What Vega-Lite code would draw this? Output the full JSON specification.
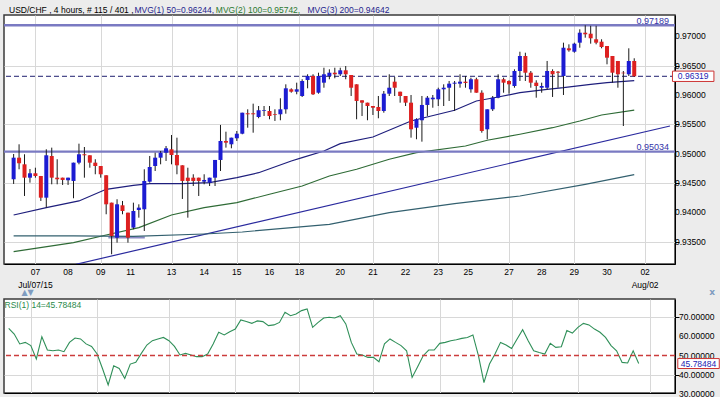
{
"$schema": "https://vega.github.io/schema/vega-lite/v6.json",
"background": "#ececec",
"padding": {"left": 2, "top": 5, "right": 0, "bottom": 0},
"autosize": {"type": "pad"},
"bounds": "flush",
"spacing": 35,
"resolve": {"scale": {"x": "independent", "y": "independent"}},
"config": {
  "font": "Liberation Sans",
  "view": {"stroke": "#3a3a3a", "strokeWidth": 1.5, "fill": "white"},
  "axis": {"domainColor": "#000000", "tickColor": "#000000", "gridColor": "#d8d8d8", "gridWidth": 1, "title": null, "labels": false}
},
"datasets": {
  "one": [{}],
  "yticks": [{"p":0.935},{"p":0.94},{"p":0.945},{"p":0.95},{"p":0.955},{"p":0.96},{"p":0.965},{"p":0.97}],
  "rticks": [{"v":30},{"v":40},{"v":50},{"v":60},{"v":70}],
  "xticks": [{"i":4,"t":"07"},{"i":10,"t":"08"},{"i":16,"t":"09"},{"i":21.5,"t":"11"},{"i":29,"t":"13"},{"i":35,"t":"14"},{"i":41,"t":"15"},{"i":47,"t":"16"},{"i":52.5,"t":"18"},{"i":60,"t":"20"},{"i":66,"t":"21"},{"i":72,"t":"22"},{"i":78,"t":"23"},{"i":83.5,"t":"25"},{"i":91,"t":"27"},{"i":97,"t":"28"},{"i":103,"t":"29"},{"i":109,"t":"30"},{"i":116,"t":"02"}],
  "xdates": [{"i":4,"t":"Jul/07/15"},{"i":116,"t":"Aug/02"}],
  "candles": [
{"i":0,"o":0.94563,"h":0.94994,"l":0.94483,"c":0.94931},
{"i":1,"o":0.94931,"h":0.95159,"l":0.94733,"c":0.94836},
{"i":2,"o":0.94818,"h":0.94989,"l":0.94278,"c":0.94590},
{"i":3,"o":0.94590,"h":0.94738,"l":0.94505,"c":0.94665},
{"i":4,"o":0.94665,"h":0.94760,"l":0.94590,"c":0.94619},
{"i":5,"o":0.94619,"h":0.94619,"l":0.94193,"c":0.94249},
{"i":6,"o":0.94249,"h":0.95074,"l":0.94079,"c":0.94972},
{"i":7,"o":0.94960,"h":0.95102,"l":0.94477,"c":0.94590},
{"i":8,"o":0.94590,"h":0.94904,"l":0.94477,"c":0.94563},
{"i":9,"o":0.94590,"h":0.94590,"l":0.94466,"c":0.94551},
{"i":10,"o":0.94546,"h":0.94590,"l":0.94466,"c":0.94590},
{"i":11,"o":0.94534,"h":0.94846,"l":0.94239,"c":0.94846},
{"i":12,"o":0.94846,"h":0.95170,"l":0.94818,"c":0.94989},
{"i":13,"o":0.94989,"h":0.95113,"l":0.94590,"c":0.94972},
{"i":14,"o":0.94972,"h":0.94972,"l":0.94760,"c":0.94846},
{"i":15,"o":0.94846,"h":0.94904,"l":0.94648,"c":0.94789},
{"i":16,"o":0.94789,"h":0.94789,"l":0.94590,"c":0.94648},
{"i":17,"o":0.94631,"h":0.94631,"l":0.93966,"c":0.94136},
{"i":18,"o":0.94164,"h":0.94164,"l":0.93284,"c":0.93596},
{"i":19,"o":0.93567,"h":0.94222,"l":0.93482,"c":0.94136},
{"i":20,"o":0.94119,"h":0.94193,"l":0.93966,"c":0.94022},
{"i":21,"o":0.93993,"h":0.93993,"l":0.93482,"c":0.93567},
{"i":22,"o":0.93738,"h":0.94164,"l":0.93710,"c":0.94022},
{"i":23,"o":0.94039,"h":0.94136,"l":0.93908,"c":0.94079},
{"i":24,"o":0.94051,"h":0.94733,"l":0.93681,"c":0.94534},
{"i":25,"o":0.94522,"h":0.94960,"l":0.94505,"c":0.94772},
{"i":26,"o":0.94789,"h":0.95016,"l":0.94704,"c":0.94931},
{"i":27,"o":0.94931,"h":0.95045,"l":0.94818,"c":0.95016},
{"i":28,"o":0.95016,"h":0.95130,"l":0.94875,"c":0.95091},
{"i":29,"o":0.95074,"h":0.95318,"l":0.94818,"c":0.94977},
{"i":30,"o":0.94977,"h":0.95272,"l":0.94648,"c":0.94801},
{"i":31,"o":0.94801,"h":0.94801,"l":0.94227,"c":0.94534},
{"i":32,"o":0.94590,"h":0.94760,"l":0.93908,"c":0.94534},
{"i":33,"o":0.94590,"h":0.94648,"l":0.94448,"c":0.94534},
{"i":34,"o":0.94590,"h":0.94590,"l":0.94278,"c":0.94534},
{"i":35,"o":0.94522,"h":0.94648,"l":0.94477,"c":0.94551},
{"i":36,"o":0.94505,"h":0.94590,"l":0.94448,"c":0.94590},
{"i":37,"o":0.94590,"h":0.94892,"l":0.94448,"c":0.94892},
{"i":38,"o":0.94892,"h":0.95489,"l":0.94704,"c":0.95216},
{"i":39,"o":0.95216,"h":0.95374,"l":0.95102,"c":0.95187},
{"i":40,"o":0.95159,"h":0.95272,"l":0.95091,"c":0.95272},
{"i":41,"o":0.95262,"h":0.95386,"l":0.95216,"c":0.95340},
{"i":42,"o":0.95340,"h":0.95698,"l":0.95330,"c":0.95698},
{"i":43,"o":0.95688,"h":0.95756,"l":0.95442,"c":0.95671},
{"i":44,"o":0.95688,"h":0.95852,"l":0.95357,"c":0.95671},
{"i":45,"o":0.95625,"h":0.95812,"l":0.95603,"c":0.95739},
{"i":46,"o":0.95727,"h":0.95812,"l":0.95642,"c":0.95739},
{"i":47,"o":0.95727,"h":0.95812,"l":0.95586,"c":0.95642},
{"i":48,"o":0.95671,"h":0.95756,"l":0.95557,"c":0.95659},
{"i":49,"o":0.95671,"h":0.95944,"l":0.95569,"c":0.95756},
{"i":50,"o":0.95756,"h":0.96182,"l":0.95681,"c":0.96114},
{"i":51,"o":0.96097,"h":0.96114,"l":0.96039,"c":0.96056},
{"i":52,"o":0.96056,"h":0.96210,"l":0.96012,"c":0.96097},
{"i":53,"o":0.95983,"h":0.96268,"l":0.95966,"c":0.96239},
{"i":54,"o":0.96256,"h":0.96353,"l":0.96114,"c":0.96324},
{"i":55,"o":0.96324,"h":0.96353,"l":0.96000,"c":0.96012},
{"i":56,"o":0.96039,"h":0.96380,"l":0.96022,"c":0.96324},
{"i":57,"o":0.96210,"h":0.96465,"l":0.96124,"c":0.96353},
{"i":58,"o":0.96324,"h":0.96438,"l":0.96268,"c":0.96380},
{"i":59,"o":0.96380,"h":0.96465,"l":0.96285,"c":0.96353},
{"i":60,"o":0.96353,"h":0.96465,"l":0.96324,"c":0.96421},
{"i":61,"o":0.96421,"h":0.96494,"l":0.96268,"c":0.96353},
{"i":62,"o":0.96341,"h":0.96341,"l":0.95983,"c":0.96124},
{"i":63,"o":0.96182,"h":0.96182,"l":0.95586,"c":0.95898},
{"i":64,"o":0.95910,"h":0.95910,"l":0.95642,"c":0.95869},
{"i":65,"o":0.95869,"h":0.95869,"l":0.95569,"c":0.95812},
{"i":66,"o":0.95812,"h":0.95812,"l":0.95659,"c":0.95783},
{"i":67,"o":0.95795,"h":0.95983,"l":0.95603,"c":0.95727},
{"i":68,"o":0.95727,"h":0.96068,"l":0.95698,"c":0.96022},
{"i":69,"o":0.96022,"h":0.96353,"l":0.95983,"c":0.96124},
{"i":70,"o":0.96227,"h":0.96307,"l":0.95983,"c":0.96124},
{"i":71,"o":0.96056,"h":0.96056,"l":0.95869,"c":0.95983},
{"i":72,"o":0.95983,"h":0.95983,"l":0.95812,"c":0.95869},
{"i":73,"o":0.95869,"h":0.96000,"l":0.95272,"c":0.95415},
{"i":74,"o":0.95442,"h":0.95603,"l":0.95245,"c":0.95586},
{"i":75,"o":0.95569,"h":0.95983,"l":0.95204,"c":0.95830},
{"i":76,"o":0.95830,"h":0.95983,"l":0.95642,"c":0.95954},
{"i":77,"o":0.95927,"h":0.96000,"l":0.95783,"c":0.95954},
{"i":78,"o":0.95927,"h":0.96124,"l":0.95812,"c":0.96097},
{"i":79,"o":0.96097,"h":0.96182,"l":0.95812,"c":0.96124},
{"i":80,"o":0.96124,"h":0.96239,"l":0.95898,"c":0.96193},
{"i":81,"o":0.96193,"h":0.96239,"l":0.95727,"c":0.96210},
{"i":82,"o":0.96193,"h":0.96353,"l":0.96124,"c":0.96227},
{"i":83,"o":0.96227,"h":0.96324,"l":0.96124,"c":0.96205},
{"i":84,"o":0.96097,"h":0.96295,"l":0.96039,"c":0.96268},
{"i":85,"o":0.96268,"h":0.96295,"l":0.96039,"c":0.96039},
{"i":86,"o":0.96039,"h":0.96080,"l":0.95357,"c":0.95386},
{"i":87,"o":0.95415,"h":0.95756,"l":0.95245,"c":0.95756},
{"i":88,"o":0.95756,"h":0.95983,"l":0.95727,"c":0.95954},
{"i":89,"o":0.95954,"h":0.96353,"l":0.95944,"c":0.96268},
{"i":90,"o":0.96268,"h":0.96295,"l":0.96039,"c":0.96210},
{"i":91,"o":0.96239,"h":0.96251,"l":0.96022,"c":0.96182},
{"i":92,"o":0.96153,"h":0.96438,"l":0.96124,"c":0.96409},
{"i":93,"o":0.96409,"h":0.96738,"l":0.96239,"c":0.96665},
{"i":94,"o":0.96665,"h":0.96721,"l":0.96239,"c":0.96380},
{"i":95,"o":0.96380,"h":0.96409,"l":0.96124,"c":0.96210},
{"i":96,"o":0.96210,"h":0.96251,"l":0.95954,"c":0.96153},
{"i":97,"o":0.96124,"h":0.96210,"l":0.96039,"c":0.96153},
{"i":98,"o":0.96124,"h":0.96580,"l":0.96097,"c":0.96409},
{"i":99,"o":0.96409,"h":0.96438,"l":0.95966,"c":0.96353},
{"i":100,"o":0.96397,"h":0.96409,"l":0.96124,"c":0.96380},
{"i":101,"o":0.96324,"h":0.96892,"l":0.96000,"c":0.96806},
{"i":102,"o":0.96796,"h":0.96864,"l":0.96738,"c":0.96762},
{"i":103,"o":0.96738,"h":0.96892,"l":0.96721,"c":0.96875},
{"i":104,"o":0.96892,"h":0.97120,"l":0.96806,"c":0.97062},
{"i":105,"o":0.97062,"h":0.97189,"l":0.96977,"c":0.97035},
{"i":106,"o":0.97045,"h":0.97180,"l":0.96875,"c":0.96967},
{"i":107,"o":0.96950,"h":0.97180,"l":0.96864,"c":0.96892},
{"i":108,"o":0.96909,"h":0.96950,"l":0.96796,"c":0.96818},
{"i":109,"o":0.96835,"h":0.96835,"l":0.96523,"c":0.96636},
{"i":110,"o":0.96665,"h":0.96665,"l":0.96210,"c":0.96380},
{"i":111,"o":0.96580,"h":0.96580,"l":0.96124,"c":0.96353},
{"i":112,"o":0.96380,"h":0.96409,"l":0.95471,"c":0.96370},
{"i":113,"o":0.96353,"h":0.96796,"l":0.96324,"c":0.96580},
{"i":114,"o":0.96580,"h":0.96626,"l":0.96307,"c":0.96319}
  ],
  "ma": [
{"i":0,"p":0.93954,"s":"MA50"},{"i":6,"p":0.94079,"s":"MA50"},{"i":12,"p":0.94193,"s":"MA50"},{"i":17,"p":0.94392,"s":"MA50"},{"i":22,"p":0.94460,"s":"MA50"},{"i":25,"p":0.94488,"s":"MA50"},{"i":31,"p":0.94488,"s":"MA50"},{"i":36,"p":0.94505,"s":"MA50"},{"i":41,"p":0.94590,"s":"MA50"},{"i":45,"p":0.94675,"s":"MA50"},{"i":51,"p":0.94875,"s":"MA50"},{"i":53,"p":0.94931,"s":"MA50"},{"i":57,"p":0.95045,"s":"MA50"},{"i":60,"p":0.95170,"s":"MA50"},{"i":66,"p":0.95284,"s":"MA50"},{"i":73,"p":0.95557,"s":"MA50"},{"i":75,"p":0.95603,"s":"MA50"},{"i":81,"p":0.95739,"s":"MA50"},{"i":85,"p":0.95898,"s":"MA50"},{"i":89,"p":0.95966,"s":"MA50"},{"i":93,"p":0.96039,"s":"MA50"},{"i":98,"p":0.96097,"s":"MA50"},{"i":101,"p":0.96124,"s":"MA50"},{"i":106,"p":0.96182,"s":"MA50"},{"i":109,"p":0.96210,"s":"MA50"},{"i":114,"p":0.96244,"s":"MA50"},
{"i":0,"p":0.93328,"s":"MA100"},{"i":11,"p":0.93482,"s":"MA100"},{"i":17,"p":0.93613,"s":"MA100"},{"i":23,"p":0.93738,"s":"MA100"},{"i":29,"p":0.93954,"s":"MA100"},{"i":35,"p":0.94079,"s":"MA100"},{"i":41,"p":0.94164,"s":"MA100"},{"i":47,"p":0.94307,"s":"MA100"},{"i":53,"p":0.94448,"s":"MA100"},{"i":58,"p":0.94619,"s":"MA100"},{"i":63,"p":0.94733,"s":"MA100"},{"i":69,"p":0.94904,"s":"MA100"},{"i":74,"p":0.95016,"s":"MA100"},{"i":83,"p":0.95130,"s":"MA100"},{"i":87,"p":0.95228,"s":"MA100"},{"i":93,"p":0.95330,"s":"MA100"},{"i":99,"p":0.95442,"s":"MA100"},{"i":104,"p":0.95557,"s":"MA100"},{"i":108,"p":0.95659,"s":"MA100"},{"i":114,"p":0.95742,"s":"MA100"},
{"i":0,"p":0.93596,"s":"MA200"},{"i":11,"p":0.93596,"s":"MA200"},{"i":22,"p":0.93588,"s":"MA200"},{"i":35,"p":0.93630,"s":"MA200"},{"i":42,"p":0.93664,"s":"MA200"},{"i":58,"p":0.93795,"s":"MA200"},{"i":69,"p":0.93993,"s":"MA200"},{"i":81,"p":0.94147,"s":"MA200"},{"i":93,"p":0.94278,"s":"MA200"},{"i":105,"p":0.94477,"s":"MA200"},{"i":114,"p":0.94642,"s":"MA200"}
  ],
  "trend": [{"i":11.45,"p":0.93113},{"i":120.57,"p":0.95471}],
  "support": [{"i":17.4,"p":0.9357},{"i":24.1,"p":0.9357}],
  "levels": [{"p":0.97189,"t":"0.97189"},{"p":0.95034,"t":"0.95034"}],
  "rsi": [
{"i":0,"v":64.3},{"i":1,"v":61.3},{"i":2,"v":56.1},{"i":3,"v":56.9},{"i":4,"v":55.2},{"i":5,"v":48.2},{"i":6,"v":59.9},{"i":7,"v":52.9},{"i":8,"v":52.5},{"i":9,"v":52.9},{"i":10,"v":52.0},{"i":11,"v":56.9},{"i":12,"v":59.2},{"i":13,"v":58.7},{"i":14,"v":56.1},{"i":15,"v":54.8},{"i":16,"v":50.8},{"i":17,"v":42.9},{"i":18,"v":34.5},{"i":19,"v":44.6},{"i":20,"v":43.2},{"i":21,"v":37.9},{"i":22,"v":45.5},{"i":23,"v":46.4},{"i":24,"v":51.1},{"i":25,"v":55.5},{"i":26,"v":57.8},{"i":27,"v":58.7},{"i":28,"v":59.5},{"i":29,"v":57.8},{"i":30,"v":54.8},{"i":31,"v":50.3},{"i":32,"v":51.1},{"i":33,"v":50.3},{"i":34,"v":49.4},{"i":35,"v":49.4},{"i":36,"v":50.8},{"i":37,"v":56.1},{"i":38,"v":62.2},{"i":39,"v":60.8},{"i":40,"v":62.5},{"i":41,"v":63.9},{"i":42,"v":68.7},{"i":43,"v":67.9},{"i":44,"v":66.9},{"i":45,"v":68.2},{"i":46,"v":67.8},{"i":47,"v":65.7},{"i":48,"v":66.1},{"i":49,"v":67.4},{"i":50,"v":72.7},{"i":51,"v":70.9},{"i":52,"v":71.8},{"i":53,"v":73.6},{"i":54,"v":74.5},{"i":55,"v":64.8},{"i":56,"v":67.4},{"i":57,"v":69.7},{"i":58,"v":70.1},{"i":59,"v":69.7},{"i":60,"v":70.9},{"i":61,"v":66.6},{"i":62,"v":56.9},{"i":63,"v":50.8},{"i":64,"v":50.3},{"i":65,"v":49.0},{"i":66,"v":49.0},{"i":67,"v":46.7},{"i":68,"v":56.1},{"i":69,"v":58.7},{"i":70,"v":56.9},{"i":71,"v":55.2},{"i":72,"v":52.5},{"i":73,"v":38.5},{"i":74,"v":44.1},{"i":75,"v":49.9},{"i":76,"v":52.9},{"i":77,"v":52.9},{"i":78,"v":56.4},{"i":79,"v":56.9},{"i":80,"v":57.8},{"i":81,"v":58.3},{"i":82,"v":59.0},{"i":83,"v":59.5},{"i":84,"v":60.8},{"i":85,"v":49.9},{"i":86,"v":35.8},{"i":87,"v":45.5},{"i":88,"v":50.8},{"i":89,"v":56.9},{"i":90,"v":55.5},{"i":91,"v":53.7},{"i":92,"v":58.7},{"i":93,"v":63.6},{"i":94,"v":57.8},{"i":95,"v":52.5},{"i":96,"v":51.6},{"i":97,"v":50.8},{"i":98,"v":56.4},{"i":99,"v":54.3},{"i":100,"v":54.6},{"i":101,"v":63.1},{"i":102,"v":61.8},{"i":103,"v":64.8},{"i":104,"v":66.9},{"i":105,"v":66.1},{"i":106,"v":63.9},{"i":107,"v":62.2},{"i":108,"v":59.5},{"i":109,"v":55.2},{"i":110,"v":52.5},{"i":111,"v":46.4},{"i":112,"v":46.1},{"i":113,"v":52.5},{"i":114,"v":45.78484}
  ]
},
"vconcat": [
{
  "width": 671, "height": 249,
  "layer": [
    {
      "data": {"name": "trend"},
      "mark": {"type": "line", "color": "#2a2a9e", "strokeWidth": 1.2, "clip": true},
      "encoding": {
        "x": {"field": "i", "type": "quantitative", "scale": {"domain": [-0.85, 120.57], "nice": false, "zero": false},
          "axis": {"values": [4,10,16,21.5,29,35,41,47,52.5,60,66,72,78,83.5,91,97,103,109,116], "ticks": false, "labels": false, "grid": true}},
        "y": {"field": "p", "type": "quantitative", "scale": {"domain": [0.93118, 0.97364], "nice": false, "zero": false},
          "axis": {"orient": "right", "values": [0.935,0.94,0.945,0.95,0.955,0.96,0.965,0.97], "tickSize": 4, "labels": false, "grid": true}}
      }
    },
    {
      "data": {"name": "support"},
      "mark": {"type": "line", "color": "#8a8ac4", "strokeWidth": 2},
      "encoding": {"x": {"field": "i", "type": "quantitative"}, "y": {"field": "p", "type": "quantitative"}}
    },
    {
      "data": {"name": "ma"},
      "mark": {"type": "line", "strokeWidth": 1.2},
      "encoding": {
        "x": {"field": "i", "type": "quantitative"},
        "y": {"field": "p", "type": "quantitative"},
        "color": {"field": "s", "type": "nominal", "scale": {"domain": ["MA50","MA100","MA200"], "range": ["#1e1e7c","#2f6b36","#33606f"]}, "legend": null}
      }
    },
    {
      "data": {"name": "levels"},
      "mark": {"type": "rule", "color": "#7a7ac2", "strokeWidth": 2.4},
      "encoding": {"y": {"field": "p", "type": "quantitative"}}
    },
    {
      "data": {"name": "levels"},
      "mark": {"type": "text", "color": "#3434a8", "fontSize": 9, "align": "right", "baseline": "bottom", "dx": -1, "dy": 0.5},
      "encoding": {"x": {"datum": 120.57, "type": "quantitative"}, "y": {"field": "p", "type": "quantitative"}, "text": {"field": "t"}}
    },
    {
      "data": {"name": "one"},
      "mark": {"type": "rule", "color": "#1e1e6e", "strokeDash": [5, 3], "strokeWidth": 1},
      "encoding": {"y": {"datum": 0.96319, "type": "quantitative"}}
    },
    {
      "data": {"name": "candles"},
      "mark": {"type": "rule", "color": "#1a1a1a", "strokeWidth": 1},
      "encoding": {"x": {"field": "i", "type": "quantitative"}, "y": {"field": "l", "type": "quantitative"}, "y2": {"field": "h"}}
    },
    {
      "data": {"name": "candles"},
      "mark": {"type": "bar", "size": 4},
      "encoding": {
        "x": {"field": "i", "type": "quantitative"},
        "y": {"field": "o", "type": "quantitative"}, "y2": {"field": "c"},
        "color": {"condition": {"test": "datum.c >= datum.o", "value": "#1c1cd2"}, "value": "#dd2020"}
      }
    },
    {
      "data": {"name": "yticks"},
      "mark": {"type": "text", "color": "#000000", "fontSize": 8.5, "align": "left", "baseline": "middle", "dx": 5},
      "encoding": {"x": {"datum": 120.57, "type": "quantitative"}, "y": {"field": "p", "type": "quantitative"}, "text": {"field": "p", "type": "quantitative", "format": ".5f"}}
    },
    {
      "data": {"name": "xticks"},
      "mark": {"type": "text", "color": "#000000", "fontSize": 8.5, "align": "center", "baseline": "top", "dy": 4},
      "encoding": {"x": {"field": "i", "type": "quantitative"}, "y": {"datum": 0.93118, "type": "quantitative"}, "text": {"field": "t"}}
    },
    {
      "data": {"name": "xdates"},
      "mark": {"type": "text", "color": "#000000", "fontSize": 8.5, "align": "center", "baseline": "top", "dy": 16.5},
      "encoding": {"x": {"field": "i", "type": "quantitative"}, "y": {"datum": 0.93118, "type": "quantitative"}, "text": {"field": "t"}}
    },
    {
      "data": {"name": "one"},
      "mark": {"type": "text", "text": "USD/CHF , 4 hours, # 115 / 401 ,", "color": "#000000", "fontSize": 8.5, "align": "left", "baseline": "alphabetic", "dy": -2},
      "encoding": {"x": {"datum": -0.85, "type": "quantitative"}, "y": {"datum": 0.97364, "type": "quantitative"}}
    },
    {
      "data": {"name": "one"},
      "mark": {"type": "text", "text": "MVG(1) 50=0.96244,", "color": "#1e1e8c", "fontSize": 8.5, "align": "left", "baseline": "alphabetic", "dy": -2},
      "encoding": {"x": {"datum": 22.19, "type": "quantitative"}, "y": {"datum": 0.97364, "type": "quantitative"}}
    },
    {
      "data": {"name": "one"},
      "mark": {"type": "text", "text": "MVG(2) 100=0.95742,", "color": "#2b7a30", "fontSize": 8.5, "align": "left", "baseline": "alphabetic", "dy": -2},
      "encoding": {"x": {"datum": 37.15, "type": "quantitative"}, "y": {"datum": 0.97364, "type": "quantitative"}}
    },
    {
      "data": {"name": "one"},
      "mark": {"type": "text", "text": "MVG(3) 200=0.94642", "color": "#1e1e8c", "fontSize": 8.5, "align": "left", "baseline": "alphabetic", "dy": -2},
      "encoding": {"x": {"datum": 53.98, "type": "quantitative"}, "y": {"datum": 0.97364, "type": "quantitative"}}
    },
    {
      "data": {"name": "one"},
      "mark": {"type": "point", "shape": "M-1,-0.25L1,-0.25L1,0.25L-1,0.25Z", "size": 1720, "filled": true, "fill": "#ffffff", "stroke": "#cc3333", "strokeWidth": 1, "opacity": 1},
      "encoding": {"x": {"datum": 124.83, "type": "quantitative"}, "y": {"datum": 0.96319, "type": "quantitative"}}
    },
    {
      "data": {"name": "one"},
      "mark": {"type": "text", "text": "0.96319", "color": "#2424b4", "fontSize": 8.5, "align": "center", "baseline": "middle"},
      "encoding": {"x": {"datum": 124.83, "type": "quantitative"}, "y": {"datum": 0.96319, "type": "quantitative"}}
    }
  ]
},
{
  "width": 671, "height": 94,
  "layer": [
    {
      "data": {"name": "rsi"},
      "mark": {"type": "line", "color": "#2f8f58", "strokeWidth": 1.1},
      "encoding": {
        "x": {"field": "i", "type": "quantitative", "scale": {"domain": [-0.85, 120.57], "nice": false, "zero": false},
          "axis": {"values": [4,10,16,21.5,29,35,41,47,52.5,60,66,72,78,83.5,91,97,103,109,116], "labels": false, "ticks": false, "grid": true}},
        "y": {"field": "v", "type": "quantitative", "scale": {"domain": [30.3, 79.7], "nice": false, "zero": false},
          "axis": {"orient": "right", "values": [30,40,50,60,70], "tickSize": 4, "labels": false, "grid": true}}
      }
    },
    {
      "data": {"name": "one"},
      "mark": {"type": "rule", "color": "#cc3c3c", "strokeDash": [5, 3], "strokeWidth": 1.3},
      "encoding": {"y": {"datum": 50, "type": "quantitative"}}
    },
    {
      "data": {"name": "rticks"},
      "mark": {"type": "text", "color": "#000000", "fontSize": 8.5, "align": "left", "baseline": "middle", "dx": 4},
      "encoding": {"x": {"datum": 120.57, "type": "quantitative"}, "y": {"field": "v", "type": "quantitative"}, "text": {"field": "v", "type": "quantitative", "format": ".5f"}}
    },
    {
      "data": {"name": "one"},
      "mark": {"type": "text", "text": "RSI(1) 14=45.78484", "color": "#2a8a4a", "fontSize": 8.5, "align": "left", "baseline": "top", "dx": 0.5, "dy": 1.5},
      "encoding": {"x": {"datum": -0.85, "type": "quantitative"}, "y": {"datum": 79.7, "type": "quantitative"}}
    },
    {
      "data": {"name": "one"},
      "mark": {"type": "text", "text": "▲▼", "font": "DejaVu Sans", "color": "#7f9cc0", "fontSize": 8, "align": "left", "baseline": "bottom", "dy": -2},
      "encoding": {"x": {"datum": 2.3, "type": "quantitative"}, "y": {"datum": 79.7, "type": "quantitative"}}
    },
    {
      "data": {"name": "one"},
      "mark": {"type": "text", "text": "x", "font": "DejaVu Sans", "color": "#7f9cc0", "fontSize": 9, "fontWeight": "bold", "align": "center", "baseline": "bottom", "dy": -2},
      "encoding": {"x": {"datum": 127.3, "type": "quantitative"}, "y": {"datum": 79.7, "type": "quantitative"}}
    },
    {
      "data": {"name": "one"},
      "mark": {"type": "point", "shape": "M-1,-0.24L1,-0.24L1,0.24L-1,0.24Z", "size": 1720, "filled": true, "fill": "#ffffff", "stroke": "#cc3333", "strokeWidth": 1, "opacity": 1},
      "encoding": {"x": {"datum": 124.83, "type": "quantitative"}, "y": {"datum": 45.78484, "type": "quantitative"}}
    },
    {
      "data": {"name": "one"},
      "mark": {"type": "text", "text": "45.78484", "color": "#2424b4", "fontSize": 8.5, "align": "center", "baseline": "middle"},
      "encoding": {"x": {"datum": 124.83, "type": "quantitative"}, "y": {"datum": 45.78484, "type": "quantitative"}}
    }
  ]
}
]
}
